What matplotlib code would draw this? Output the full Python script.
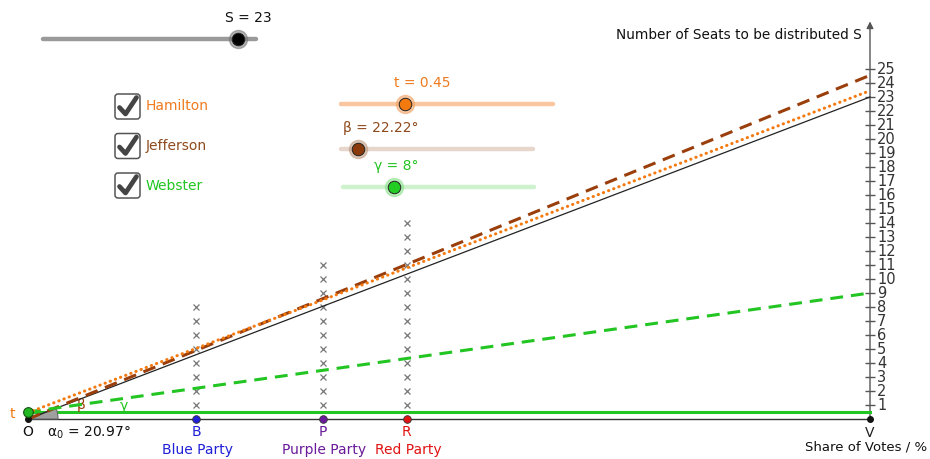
import matplotlib
matplotlib.use('Agg')
import matplotlib.pyplot as plt
import matplotlib.transforms as mtransforms
from matplotlib.patches import Wedge, FancyBboxPatch
from matplotlib import font_manager as fm

# values
S = 23
t = 0.45
beta = 22.22
gamma = 8
alpha0 = 20.97

letters = ['B', 'P', 'R']
parties = ['Blue Party', 'Purple Party', 'Red Party']
party_colors = ['#2020d8', '#6a1a9a', '#e01414']
vote_share = [20, 35, 45]
cross_counts = [8, 11, 14]

seat_ticks = list(range(1, 26))
V = 100

hamilton_y = [t, 23.45]
jefferson_y = [0, 24.55]
webster_y = [0.5, 9.0]
webster_base = 0.5

methods = ['Hamilton', 'Jefferson', 'Webster']
method_colors = ['#f07a1e', '#8e4a1c', '#22c522']

ORANGE = '#f47a10'
BROWN = '#9a3f0c'
GREEN = '#22c522'

# slider ranges (for knob positions)
S_range = (1, 25)
t_range = (0, 1.5)
beta_range = (20, 45)
gamma_range = (0, 30)

names = {f.name for f in fm.fontManager.ttflist}
tick_font = 'Liberation Sans Narrow' if 'Liberation Sans Narrow' in names else 'DejaVu Sans'
plt.rcParams['font.family'] = ['DejaVu Sans']

fig = plt.figure(figsize=(9.3, 4.59), dpi=100)
ax = fig.add_axes([0, 0, 1, 1])
# pixel layout: origin at (28, 419), 8.42 px per %, 14 px per seat
ax.set_xlim(-28 / 8.42, 902 / 8.42)
ax.set_ylim(-40 / 14, 419 / 14)
ax.axis('off')

# axes
ax.plot([0, V], [0, 0], color='#333333', lw=1.0, zorder=2)
ax.annotate('', xy=(V, 28.4), xytext=(V, 0),
            arrowprops=dict(arrowstyle='-|>', color='#555555', lw=1.0,
                            mutation_scale=10, shrinkA=0, shrinkB=0), zorder=2)
ax.plot([V] * len(seat_ticks), seat_ticks, ls='none', marker='_', ms=7,
        mew=1.0, color='#555555', zorder=2)
for k in seat_ticks:
    ax.annotate(str(k), (V, k), xytext=(5, 0), textcoords='offset points',
                va='center', ha='left', fontsize=10.5, color='#333333',
                family=tick_font)

ax.text(V - 1.0, (419 - 35) / 14, 'Number of Seats to be distributed S',
        ha='right', va='center', fontsize=9.8, color='#111111')
ax.annotate('V', (V, 0), xytext=(0, -10), textcoords='offset points',
            ha='center', va='center', fontsize=10, color='#222222')
ax.annotate('Share of Votes / %', (V, 0), xytext=(41, -20),
            textcoords='offset points', ha='right', va='center',
            fontsize=9.5, color='#111111')

# Webster base line and method lines
ax.plot([0, V], [webster_base, webster_base], color=GREEN, lw=2.2, zorder=3)
ax.plot([0, V], [0, S], color='#222222', lw=0.9, zorder=4)
ax.plot([0, V], jefferson_y, color=BROWN, lw=2.2, dashes=(4.2, 2.6), zorder=5)
ax.plot([0, V], hamilton_y, color=ORANGE, lw=2.2, dashes=(0.1, 1.7),
        dash_capstyle='round', zorder=6)
ax.plot([0, V], webster_y, color=GREEN, lw=2.2, dashes=(4.2, 2.6), zorder=5)

# angle alpha0 at O (drawn in screen inches so it keeps its shape)
wtrans = fig.dpi_scale_trans + mtransforms.ScaledTranslation(0, 0, ax.transData)
ax.add_patch(Wedge((0, 0), 0.3, 0, alpha0, transform=wtrans,
                   facecolor='#a0a0a0', edgecolor='#666666', lw=0.8, zorder=3))

# crosses above each party
for x, n in zip(vote_share, cross_counts):
    ax.plot([x] * n, list(range(1, n + 1)), ls='none', marker='x', ms=4,
            mew=0.9, color='#777777', zorder=2)

# points
ax.plot(0, 0, 'o', ms=4, color='#111111', zorder=8)
ax.plot(V, 0, 'o', ms=4, color='#111111', zorder=8)
ax.plot(0, webster_base, 'o', ms=7, mfc='#22b822', mec='#115511', mew=0.8, zorder=9)
for x, let, name, c in zip(vote_share, letters, parties, party_colors):
    ax.plot(x, 0, 'o', ms=5.5, mfc=c, mec='#333333', mew=0.6, zorder=8)
    ax.annotate(let, (x, 0), xytext=(0, -9), textcoords='offset points',
                ha='center', va='center', fontsize=10, color=c)
    ax.annotate(name, (x, 0), xytext=(1, -22), textcoords='offset points',
                ha='center', va='center', fontsize=10, color=c)

ax.annotate('O', (0, 0), xytext=(0, -9), textcoords='offset points',
            ha='center', va='center', fontsize=10, color='#111111')
ax.annotate(r'$\mathregular{\alpha_0}$ = %.2f°' % alpha0, (0, 0), xytext=(14, -10),
            textcoords='offset points', ha='left', va='center',
            fontsize=10, color='#111111')
ax.annotate('t', (0, t), xytext=(-11, -1), textcoords='offset points',
            ha='center', va='center', fontsize=10, color=ORANGE)
ax.annotate('β', (0, 0), xytext=(38, 10), textcoords='offset points',
            ha='center', va='center', fontsize=10, color=BROWN)
ax.annotate('γ', (0, webster_base), xytext=(69, 4), textcoords='offset points',
            ha='center', va='center', fontsize=10, color=GREEN)

# GeoGebra widgets, in pixel coordinates
ui = fig.add_axes([0, 0, 1, 1], facecolor='none')
ui.set_xlim(0, 930)
ui.set_ylim(459, 0)
ui.axis('off')


def slider(x0, x1, y, value, vrange, line_c, knob_c, halo_c, label, label_c, lx):
    ui.plot([x0, x1], [y, y], color=line_c, lw=3.2, solid_capstyle='round')
    f = (value - vrange[0]) / (vrange[1] - vrange[0])
    kx = x0 + f * (x1 - x0)
    ui.plot(kx, y, 'o', ms=13, color=halo_c, alpha=0.55)
    ui.plot(kx, y, 'o', ms=9, mfc=knob_c, mec='#222222', mew=0.7)
    ui.text(lx, y - 21, label, ha='center', va='center', fontsize=10, color=label_c)


slider(43, 256, 39, S, S_range, '#9a9a9a', '#000000', '#777777',
       'S = %d' % S, '#111111', 248)
slider(341, 553, 104, t, t_range, '#f9c6a0', ORANGE, '#f4a060',
       't = %.2f' % t, '#f07a1e', 422)
slider(341, 533, 149, beta, beta_range, '#e6d6cc', '#8a3a0a', '#c09a80',
       'β = %.2f°' % beta, '#8e4a1c', 381)
slider(343, 534, 187, gamma, gamma_range, '#cdf2cd', '#22cc22', '#88e088',
       'γ = %d°' % gamma, '#22c522', 396)

for i, (m, c) in enumerate(zip(methods, method_colors)):
    cy = 106.5 + 39.5 * i
    ui.add_patch(FancyBboxPatch((115, cy - 12.5), 25, 25,
                                boxstyle='round,pad=0,rounding_size=3',
                                facecolor='white', edgecolor='#555555', lw=1.1))
    ui.plot([119.5, 125.5, 136.5], [cy + 1, cy + 7.5, cy - 9], color='#444444',
            lw=3.4, solid_capstyle='round', solid_joinstyle='round')
    ui.text(146, cy, m, ha='left', va='center', fontsize=10, color=c)

fig.savefig('out.png', dpi=100)
